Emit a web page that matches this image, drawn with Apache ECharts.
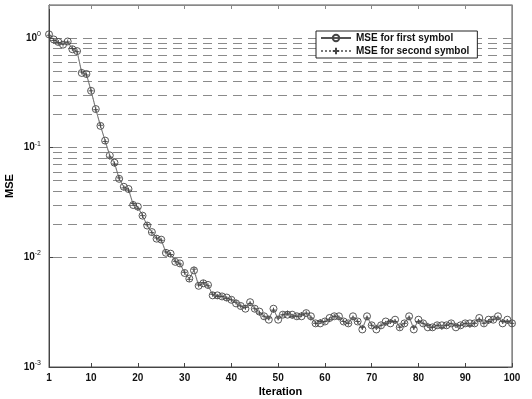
<!DOCTYPE html>
<html>
<head>
<meta charset="utf-8">
<script src="https://cdn.jsdelivr.net/npm/echarts@6/dist/echarts.min.js"></script>
<style>
  html, body { margin: 0; padding: 0; background: #fff; }
  #chart { width: 532px; height: 399px; }
</style>
</head>
<body>
<div id="chart"></div>
<script>
// iterations 1..100
const iterations = Array.from({ length: 100 }, (_, i) => i + 1);

const mseFirst = [
  1.08, 0.97, 0.92, 0.87, 0.93, 0.79, 0.76, 0.48, 0.47, 0.33,
  0.225, 0.158, 0.116, 0.085, 0.073, 0.052, 0.044, 0.042, 0.030, 0.029,
  0.024, 0.0195, 0.017, 0.0148, 0.0145, 0.011, 0.0108, 0.0091, 0.0088, 0.0072,
  0.0064, 0.0076, 0.0055, 0.0058, 0.0056, 0.0045, 0.0045, 0.0044, 0.0043, 0.0041,
  0.0038, 0.0036, 0.0034, 0.0039, 0.0034, 0.0032, 0.0029, 0.0027, 0.0034, 0.0027,
  0.0030, 0.0030, 0.0030, 0.0029, 0.0029, 0.0031, 0.0029, 0.0025, 0.0025, 0.0026,
  0.0028, 0.0029, 0.0029, 0.0026, 0.0025, 0.0029, 0.0026, 0.0022, 0.0029, 0.0024,
  0.0022, 0.0024, 0.0026, 0.0025, 0.0027, 0.0023, 0.0025, 0.0029, 0.0022, 0.0027,
  0.0025, 0.0023, 0.0023, 0.0024, 0.0024, 0.0024, 0.0025, 0.0023, 0.0024, 0.0025,
  0.0025, 0.0025, 0.0028, 0.0025, 0.0027, 0.0027, 0.0029, 0.0025, 0.0027, 0.0025
];

const mseSecond = [
  1.06, 0.95, 0.91, 0.88, 0.92, 0.80, 0.75, 0.49, 0.46, 0.33,
  0.222, 0.160, 0.114, 0.082, 0.071, 0.053, 0.043, 0.041, 0.031, 0.028,
  0.024, 0.0198, 0.0168, 0.0150, 0.0143, 0.0112, 0.0106, 0.0092, 0.0087, 0.0073,
  0.0063, 0.0078, 0.0056, 0.0059, 0.0055, 0.0046, 0.0044, 0.0044, 0.0042, 0.0041,
  0.0039, 0.0036, 0.0035, 0.0038, 0.0034, 0.0031, 0.0029, 0.0028, 0.0033, 0.0028,
  0.0030, 0.0031, 0.0029, 0.0029, 0.0030, 0.0031, 0.0028, 0.0025, 0.0026, 0.0026,
  0.0027, 0.0029, 0.0028, 0.0026, 0.0025, 0.0028, 0.0026, 0.0023, 0.0028, 0.0024,
  0.0023, 0.0024, 0.0025, 0.0026, 0.0026, 0.0023, 0.0025, 0.0028, 0.0023, 0.0026,
  0.0025, 0.0024, 0.0023, 0.0024, 0.0023, 0.0024, 0.0025, 0.0024, 0.0024, 0.0025,
  0.0024, 0.0025, 0.0027, 0.0025, 0.0026, 0.0027, 0.0028, 0.0026, 0.0026, 0.0025
];

const xTicks = [1, 10, 20, 30, 40, 50, 60, 70, 80, 90, 100];
const yDecades = [0.001, 0.01, 0.1, 1];
// dashed grid rows: 2..10 x 10^k
const yGrid = [];
[0.001, 0.01, 0.1].forEach(d => {
  for (let m = 2; m <= 10; m++) yGrid.push(+(m * d).toPrecision(3));
});

const chart = echarts.init(document.getElementById('chart'));
const font = 'Liberation Sans, Arial, sans-serif';
const axisColor = '#444';

const supLabel = v => {
  const e = Math.round(Math.log10(v));
  return '{b|10}{s|' + e + '}';
};

chart.setOption({
  animation: false,
  backgroundColor: '#fff',
  textStyle: { fontFamily: font, color: '#111' },
  grid: {
    left: 49, right: 20, top: 5, bottom: 32,
    outerBoundsMode: 'none', containLabel: false,
    show: true, borderColor: '#555', borderWidth: 1, backgroundColor: 'transparent'
  },
  legend: {
    left: 316,
    top: 31,
    z: 20,
    orient: 'vertical',
    itemGap: 3,
    itemWidth: 30,
    itemHeight: 8,
    padding: [2, 8, 2, 4],
    backgroundColor: '#fff',
    borderColor: '#222',
    borderWidth: 1,
    textStyle: { fontFamily: font, fontSize: 10, fontWeight: 'bold', color: '#111' },
    data: ['MSE for first symbol', 'MSE for second symbol']
  },
  xAxis: [
    {
      type: 'value',
      min: 1,
      max: 100,
      name: 'Iteration',
      nameLocation: 'middle',
      nameGap: 19,
      nameMoveOverlap: false,
      nameTextStyle: { fontFamily: font, fontSize: 11, fontWeight: 'bold', color: '#000' },
      axisLine: { onZero: false, lineStyle: { color: axisColor, width: 1 } },
      axisTick: { inside: true, length: 4, customValues: xTicks, lineStyle: { color: axisColor } },
      axisLabel: { customValues: xTicks, margin: 6, fontSize: 10, fontWeight: 'bold', color: '#111', fontFamily: font },
      splitLine: { show: false }
    },
    {
      type: 'value',
      position: 'top',
      min: 1,
      max: 100,
      axisLine: { onZero: false, lineStyle: { color: '#888', width: 1 } },
      axisTick: { inside: true, length: 4, customValues: xTicks, lineStyle: { color: '#888' } },
      axisLabel: { show: false },
      splitLine: { show: false }
    }
  ],
  yAxis: [
    {
      type: 'log',
      logBase: 10,
      min: 0.001,
      max: 2,
      name: 'MSE',
      nameLocation: 'middle',
      nameGap: 34,
      nameMoveOverlap: false,
      nameTextStyle: { fontFamily: font, fontSize: 11, fontWeight: 'bold', color: '#000' },
      axisLine: { show: true, onZero: false, lineStyle: { color: axisColor, width: 1 } },
      axisTick: { inside: true, length: 4, customValues: yDecades, lineStyle: { color: axisColor } },
      axisLabel: {
        customValues: yDecades,
        margin: 8,
        formatter: supLabel,
        rich: {
          b: { fontFamily: font, fontSize: 10, fontWeight: 'bold', color: '#111' },
          s: { fontFamily: font, fontSize: 7, color: '#111', padding: [0, 0, 8, 0] }
        }
      },
      splitLine: { show: false }
    },
    {
      type: 'log',
      logBase: 10,
      min: 0.001,
      max: 2,
      position: 'right',
      axisLine: { show: true, onZero: false, lineStyle: { color: '#888', width: 1 } },
      axisTick: { inside: true, length: 4, customValues: yDecades, lineStyle: { color: '#666' } },
      axisLabel: { show: false },
      splitLine: { show: false }
    }
  ],
  series: [
    {
      name: 'MSE for first symbol',
      type: 'line',
      data: iterations.map((x, i) => [x, mseFirst[i]]),
      symbol: 'circle',
      symbolSize: 7,
      showAllSymbol: true,
      lineStyle: { color: '#555', width: 0.8 },
      itemStyle: { color: 'rgba(255,255,255,0)', borderColor: '#444', borderWidth: 0.9 },
      z: 3,
      markLine: {
        silent: true,
        z: 1,
        symbol: ['none', 'none'],
        label: { show: false },
        lineStyle: { color: '#8a8a8a', width: 1, type: [9, 6], dashOffset: -4 },
        data: yGrid.map(v => ({ yAxis: v }))
      }
    },
    {
      name: 'MSE for second symbol',
      type: 'line',
      data: iterations.map((x, i) => [x, mseSecond[i]]),
      symbol: 'path://M5 0 L5 10 M0 5 L10 5',
      symbolSize: 5,
      showAllSymbol: true,
      lineStyle: { color: '#777', width: 0.8, type: 'dotted' },
      itemStyle: { color: 'rgba(0,0,0,0)', borderColor: '#444', borderWidth: 0.9 },
      z: 4
    }
  ]
});
</script>
</body>
</html>
